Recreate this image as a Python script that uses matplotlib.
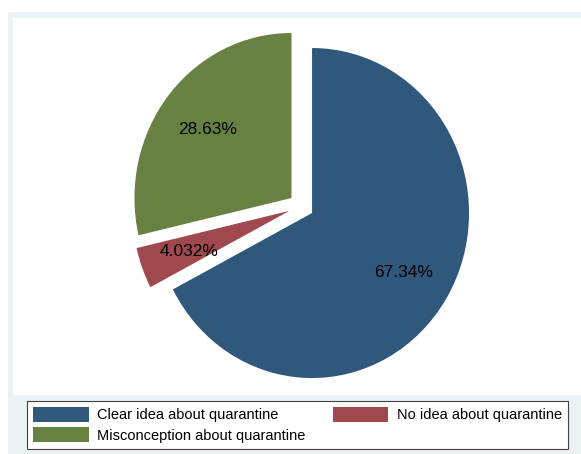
import matplotlib
matplotlib.use('Agg')
import matplotlib.pyplot as plt
from matplotlib.patches import Rectangle

plt.rcParams['font.family'] = ['Liberation Sans', 'DejaVu Sans']

labels = ['Clear idea about quarantine', 'No idea about quarantine',
          'Misconception about quarantine']
values = [67.34, 4.032, 28.63]
colors = ['#30587c', '#9f484e', '#678142']

W, H = 581, 454
fig = plt.figure(figsize=(W/100., H/100.), dpi=100)
fig.patch.set_facecolor('white')

def box(x0, y0, x1, y1):
    # pixel box (top-left origin) -> figure fraction
    return (x0/W, 1-y1/H, (x1-x0)/W, (y1-y0)/H)

# graph region and plot region
x, y, w, h = box(8, 12, 581, 454)
fig.patches.append(Rectangle((x, y), w, h, transform=fig.transFigure,
                             facecolor='#eaf2f3', edgecolor='none', zorder=-2))
x, y, w, h = box(13, 18, 581, 395)
fig.patches.append(Rectangle((x, y), w, h, transform=fig.transFigure,
                             facecolor='white', edgecolor='none', zorder=-1))

# pie axes, centre at (301, 206) px, radius 157 x 165 px
cx, cy, rx, ry = 301.3, 206.2, 157., 165.
half = 200.
ax = fig.add_axes(box(cx-half, cy-half, cx+half, cy+half))
ax.set_zorder(2)
ax.patch.set_alpha(0)
wedges, txt, pct = ax.pie(values, colors=colors, startangle=90,
                          counterclock=False, explode=[0.08]*3,
                          autopct=lambda p: '', pctdistance=0.68,
                          wedgeprops=dict(linewidth=0))
for t, v in zip(pct, values):
    t.set_text('%.4g%%' % v)
    t.set_fontsize(12.5)
    t.set_color('black')
    t.set_va('center_baseline')
ax.set_aspect('auto')
ax.set_xlim(-half/rx, half/rx)
ax.set_ylim(-half/ry, half/ry)
ax.axis('off')

# legend
order = [0, 2, 1]
leg = fig.legend([wedges[i] for i in order], [labels[i] for i in order],
                 ncol=2, loc='upper left', bbox_to_anchor=(27/W, 1-401/H),
                 fontsize=10.5, frameon=True, fancybox=False,
                 edgecolor='#404040', framealpha=1, borderpad=0.42,
                 labelspacing=0.35, handlelength=3.8, handleheight=1.15,
                 handletextpad=0.6, borderaxespad=0, columnspacing=1.85)
leg.get_frame().set_linewidth(0.8)
leg.set_zorder(3)

plt.savefig('out.png', dpi=100)
plt.close('all')
